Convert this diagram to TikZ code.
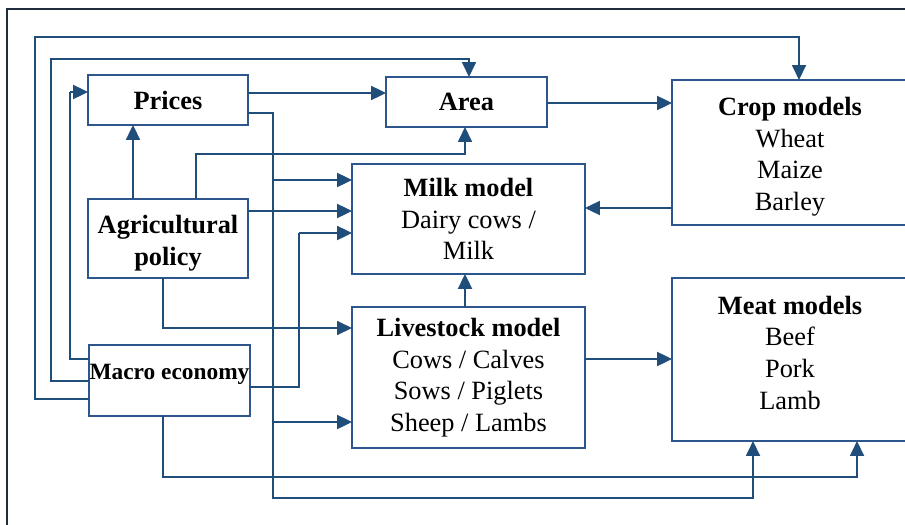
\documentclass[tikz,border=0pt]{standalone}
\usepackage{fontspec}
\setmainfont{Liberation Serif}
\usetikzlibrary{arrows.meta}
\definecolor{linkblue}{RGB}{31,78,122}
\definecolor{boxblue}{RGB}{44,86,140}
\definecolor{framegray}{RGB}{33,45,62}
\tikzset{
    box/.style = {draw = boxblue, line width = 0.9pt, inner sep = 0pt, outer sep = 0pt, align = center, font = \fontsize{15pt}{18pt}\selectfont},
    tiphead/.style = {-{Triangle[length = 0.3cm, width = 0.28cm]}},
    link/.style = {draw = linkblue, line width = 1.3pt, tiphead},
    elbow/.style = {draw = linkblue, line width = 1pt},
    elbowlink/.style = {elbow, tiphead}
}
\begin{document}
\begin{tikzpicture}[x = 0.02cm, y = -0.02cm]
    \useasboundingbox (0,0) rectangle (905,524);
    \clip (0,0) rectangle (905,524);
    \draw[draw = framegray, line width = 0.9pt] (7,540) -- (7,9) -- (920,9);

    \node[box, minimum width = 3.2cm, minimum height = 1cm] (prices) at (168,100) {\textbf{Prices}};
    \node[box, minimum width = 3.22cm, minimum height = 1cm] (area) at (466.5,102) {\textbf{Area}};
    \node[box, minimum width = 4.72cm, minimum height = 2.9cm] (crop) at (790,152.5) {\rule{0pt}{15pt}\textbf{Crop models}\\Wheat\\Maize\\Barley};
    \node[box, minimum width = 4.66cm, minimum height = 2.2cm] (milk) at (468.5,219) {\textbf{Milk model}\\Dairy cows /\\Milk};
    \node[box, minimum width = 3.2cm, minimum height = 1.58cm] (policy) at (168,238.5) {\rule{0pt}{16pt}\textbf{Agricultural}\\\textbf{policy}};
    \node[box, minimum width = 4.66cm, minimum height = 2.82cm] (stock) at (468.5,377.5) {\textbf{Livestock model}\\Cows / Calves\\Sows / Piglets\\Sheep / Lambs};
    \node[box, minimum width = 4.72cm, minimum height = 3.26cm] (meat) at (790,359.5) {\textbf{Meat models}\\Beef\\Pork\\Lamb\rule[-8pt]{0pt}{8pt}};
    \node[box, minimum width = 3.22cm, minimum height = 1.42cm, text height = 0.3cm, text depth = 0.36cm, font = \fontsize{13.3pt}{15pt}\selectfont] (macro) at (169.5,380.5) {\textbf{Macro economy}};

    \coordinate (tapmilk) at (273,180);
    \coordinate (tapstock) at (273,422);

    \draw[elbowlink] (macro.west |- 0,399) -| (35,37) -| (crop.north -| 799,0);
    \draw[elbowlink] (macro.west |- 0,381) -| (51,59) -| (area.north -| 469,0);
    \draw[elbow] (macro.west |- 0,359) -| (70,92);
    \draw[link] (70,92) -- (prices.west |- 0,92);
    \draw[link] (prices.east |- 0,93) -- (area.west |- 0,93);
    \draw[elbowlink] (prices.east |- 0,113) -| (273,498) -| (meat.south -| 753,0);
    \draw[link] (tapmilk) -- (milk.west |- tapmilk);
    \draw[link] (tapstock) -- (stock.west |- tapstock);
    \draw[link] (policy.north -| 133,0) -- (prices.south -| 133,0);
    \draw[elbowlink] (policy.north -| 196,0) |- (465,154) -- (area.south -| 465,0);
    \draw[link] (policy.east |- 0,211) -- (milk.west |- 0,211);
    \draw[elbowlink] (policy.south -| 163,0) |- (stock.west |- 0,328);
    \draw[elbow] (macro.east |- 0,387) -| (299,233);
    \draw[link] (299,233) -- (milk.west |- 0,233);
    \draw[elbowlink] (macro.south -| 163,0) |- (857,477) -- (meat.south -| 857,0);
    \draw[link] (area.east |- 0,103) -- (crop.west |- 0,103);
    \draw[link] (crop.west |- 0,208) -- (milk.east |- 0,208);
    \draw[link] (stock.north -| 465,0) -- (milk.south -| 465,0);
    \draw[link] (stock.east |- 0,359) -- (meat.west |- 0,359);
\end{tikzpicture}
\end{document}
